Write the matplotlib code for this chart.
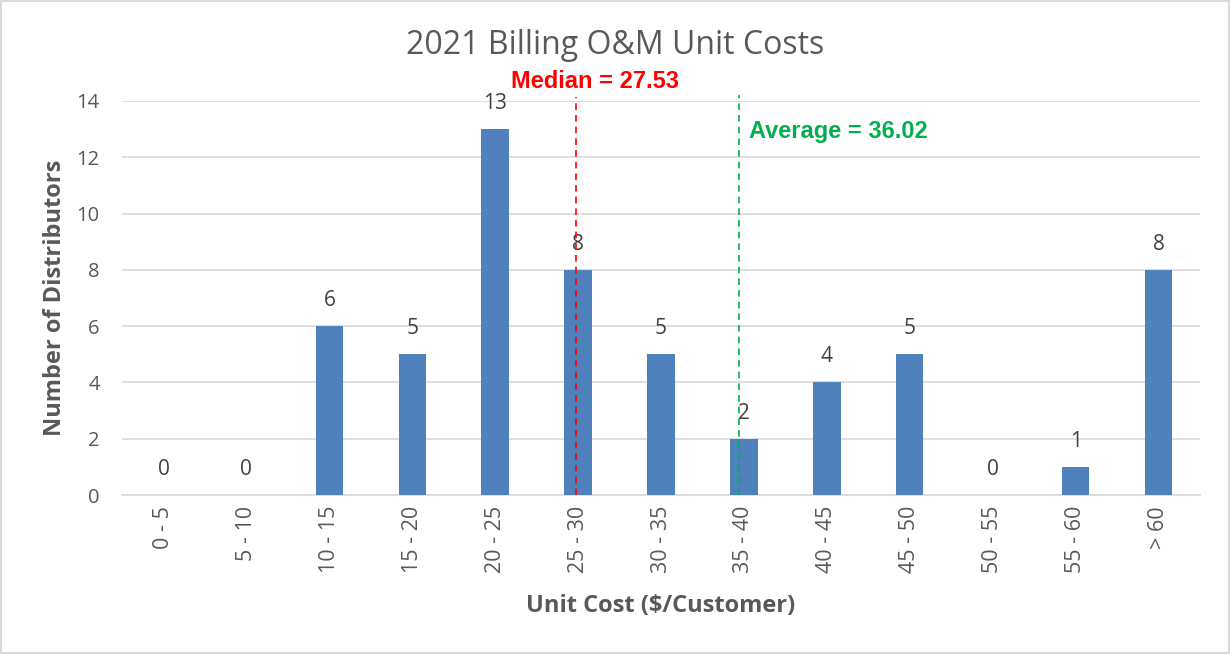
import numpy as np
import matplotlib
matplotlib.use("Agg")
import matplotlib.pyplot as plt

# data
categories = ["0 - 5", "5 - 10", "10 - 15", "15 - 20", "20 - 25", "25 - 30", "30 - 35",
              "35 - 40", "40 - 45", "45 - 50", "50 - 55", "55 - 60", "> 60"]
counts = [0, 0, 6, 5, 13, 8, 5, 2, 4, 5, 0, 1, 8]
median_value = 27.53
average_value = 36.02
# where the reference lines sit on the category axis (as drawn in the picture)
median_pos = 4.98
average_pos = 6.94

plt.rcParams['font.family'] = ['Open Sans', 'DejaVu Sans']

fig = plt.figure(figsize=(12.3, 6.54), dpi=100)
ax = fig.add_axes([0.0992, 0.2431, 0.8764, 0.6025])

x = np.arange(len(categories))
ax.bar(x, counts, width=0.33, color='#4f81bd', zorder=3)

for xi, c in zip(x, counts):
    ax.annotate(str(c), (xi, c), xytext=(0, 18.5), textcoords='offset points',
                ha='center', va='center', fontsize=15, color='#404040')

ax.set_xlim(-0.5, len(categories) - 0.5)
ax.set_ylim(0, 14)
ax.set_yticks(range(0, 15, 2))
ax.set_xticks(x)
ax.set_xticklabels(categories, rotation=90, fontsize=15.5, color='#595959')
ax.tick_params(axis='y', labelsize=14.5, labelcolor='#595959', length=0, pad=16)
ax.tick_params(axis='x', length=0, pad=8)
ax.grid(axis='y', color='#d9d9d9', linewidth=1.2, zorder=0)
for s in ['top', 'right', 'left']:
    ax.spines[s].set_visible(False)
ax.spines['bottom'].set_color('#d9d9d9')
ax.spines['bottom'].set_linewidth(1.2)

# median / average reference lines
ax.plot([median_pos, median_pos], [0, 14.15], color='#ff0000', linestyle='--',
        dashes=(4, 3), linewidth=1.2, clip_on=False, zorder=4)
ax.plot([average_pos, average_pos], [0, 14.2], color='#00b050', linestyle='--',
        dashes=(4, 3), linewidth=1.2, clip_on=False, zorder=4)
ax.text(median_pos + 0.23, 14.68, "Median = %.2f" % median_value, color='#ff0000',
        fontsize=17, fontweight='bold', ha='center', va='center',
        family=['Liberation Sans', 'DejaVu Sans'])
ax.text(average_pos + 0.12, 12.9, "Average = %.2f" % average_value, color='#00b050',
        fontsize=17, fontweight='bold', ha='left', va='center',
        family=['Liberation Sans', 'DejaVu Sans'])

fig.text(55 / 1230, 1 - 298 / 654, "Number of Distributors", fontsize=17, fontweight='bold',
         color='#595959', rotation=90, ha='center', va='center')
fig.text(661 / 1230, 1 - 606 / 654, "Unit Cost ($/Customer)", fontsize=17, fontweight='bold',
         color='#595959', ha='center', va='center')
fig.text(615 / 1230, 1 - 45 / 654, "2021 Billing O&M Unit Costs", fontsize=23,
         color='#595959', ha='center', va='center')

# chart border
fig.patches.append(plt.Rectangle((0.001, 0.001), 0.998, 0.998, transform=fig.transFigure,
                                 fill=False, edgecolor='#d9d9d9', linewidth=1.5))

fig.savefig("out.png", dpi=100)
